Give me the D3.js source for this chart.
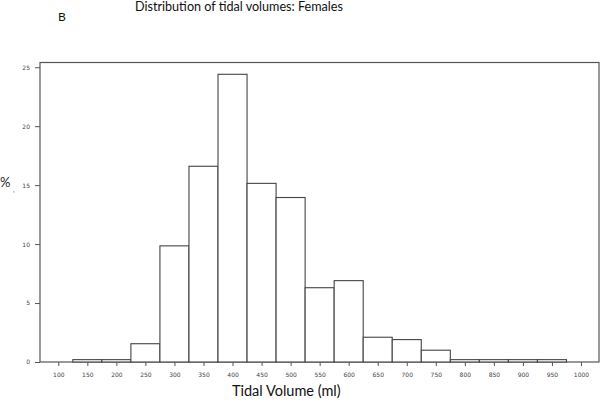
<!DOCTYPE html>
<html>
<head>
<meta charset="utf-8">
<script src="https://cdn.jsdelivr.net/npm/d3@7"></script>
<style>
  body { margin: 0; background: #fff; }
  svg { display: block; }
</style>
</head>
<body>
<svg id="chart" width="600" height="403"></svg>
<script>
// bin centres (ml), each bin is 50 ml wide
const binCentres = [150, 200, 250, 300, 350, 400, 450, 500, 550, 600, 650, 700, 750, 800, 850, 900, 950];
const percents = [0.2, 0.2, 1.55, 9.85, 16.6, 24.4, 15.15, 13.95, 6.3, 6.9, 2.1, 1.9, 1.0, 0.2, 0.2, 0.2, 0.2];
const xTicks = [100, 150, 200, 250, 300, 350, 400, 450, 500, 550, 600, 650, 700, 750, 800, 850, 900, 950, 1000];
const yTicks = [0, 5, 10, 15, 20, 25];

const svg = d3.select('#chart');
const frame = { left: 40, right: 599, top: 62.5, bottom: 362 };

const x = d3.scaleLinear().domain([68.5, 1031]).range([frame.left, frame.right]);
const y = d3.scaleLinear().domain([0, 25.4]).range([frame.bottom, frame.top]);

// plot frame
svg.append('rect')
  .attr('x', frame.left)
  .attr('y', frame.top)
  .attr('width', frame.right - frame.left)
  .attr('height', frame.bottom - frame.top)
  .style('fill', 'none')
  .style('stroke', '#555')
  .style('stroke-width', 1.2);

// bars
svg.append('g').selectAll('rect')
  .data(binCentres)
  .join('rect')
  .attr('x', d => x(d - 25))
  .attr('y', (d, i) => y(percents[i]))
  .attr('width', d => x(d + 25) - x(d - 25))
  .attr('height', (d, i) => y(0) - y(percents[i]))
  .style('fill', '#fff')
  .style('stroke', '#444')
  .style('stroke-width', 1.1);

// axes
const xAxis = d3.axisBottom(x).tickValues(xTicks).tickFormat(d3.format('d')).tickSize(4).tickPadding(7);
const yAxis = d3.axisLeft(y).tickValues(yTicks).tickFormat(d3.format('d')).tickSize(5).tickPadding(5);

const gx = svg.append('g')
  .attr('transform', `translate(0,${frame.bottom})`)
  .call(xAxis);
const gy = svg.append('g')
  .attr('transform', `translate(${frame.left},0)`)
  .call(yAxis);

[gx, gy].forEach(g => {
  g.select('.domain').remove();
  g.selectAll('.tick line').style('stroke', '#555');
  g.selectAll('.tick text')
    .style('font-family', 'DejaVu Sans, sans-serif')
    .style('font-size', '6px')
    .style('fill', '#444');
});

// texts
svg.append('text')
  .attr('x', 135)
  .attr('y', 11)
  .style('font-family', 'Lato, sans-serif')
  .style('font-size', '12.6px')
  .style('fill', '#111')
  .text('Distribution of tidal volumes: Females');

svg.append('text')
  .attr('x', 58)
  .attr('y', 21)
  .style('font-family', 'Lato, sans-serif')
  .style('font-size', '12px')
  .style('fill', '#111')
  .text('B');

svg.append('text')
  .attr('x', 232)
  .attr('y', 396)
  .style('font-family', 'Lato, sans-serif')
  .style('font-size', '14.5px')
  .style('fill', '#111')
  .text('Tidal Volume (ml)');

svg.append('text')
  .attr('x', 0)
  .attr('y', 187)
  .style('font-family', 'Lato, sans-serif')
  .style('font-size', '13px')
  .style('fill', '#222')
  .text('%');

svg.append('text')
  .attr('x', 13)
  .attr('y', 192)
  .style('font-family', 'Lato, sans-serif')
  .style('font-size', '7px')
  .style('fill', '#666')
  .text(',');
</script>
</body>
</html>
